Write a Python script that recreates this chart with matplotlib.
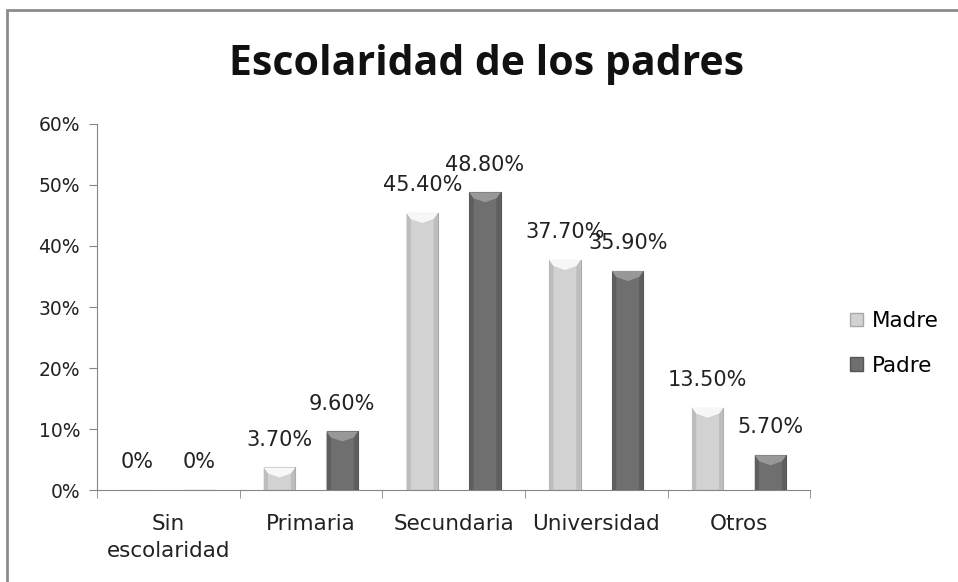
import matplotlib.pyplot as plt
import numpy as np
from matplotlib.patches import Rectangle, Patch, Polygon

categories = ["Sin\nescolaridad", "Primaria", "Secundaria", "Universidad", "Otros"]
madre = [0.0, 3.7, 45.4, 37.7, 13.5]
padre = [0.0, 9.6, 48.8, 35.9, 5.7]
madre_labels = ["0%", "3.70%", "45.40%", "37.70%", "13.50%"]
padre_labels = ["0%", "9.60%", "48.80%", "35.90%", "5.70%"]

fig = plt.figure(figsize=(9.58, 5.82), dpi=100)
ax = fig.add_axes([0.101, 0.158, 0.745, 0.629])

x = np.arange(len(categories))
w = 0.22
off = 0.22

b1 = ax.bar(x - off, madre, w, color="#d2d2d2", edgecolor="#a8a8a8", linewidth=0.8, label="Madre")
b2 = ax.bar(x + off, padre, w, color="#6f6f6f", edgecolor="#555555", linewidth=0.8, label="Padre")

# bevelled look: lighter V on top, darker side strips
px = 60 / 366.0  # one pixel in data units (y)
for bars, top, side in ((b1, "#f7f7f7", "#bdbdbd"), (b2, "#989898", "#5e5e5e")):
    for r in bars:
        h = r.get_height()
        if h <= 0:
            continue
        x0, x1 = r.get_x(), r.get_x() + r.get_width()
        xc = (x0 + x1) / 2
        d = min(10 * px, h * 0.45)
        sw = 0.03
        ax.add_patch(Polygon([(x0, 0), (x0 + sw, 0), (x0 + sw, h - d * 0.6), (x0, h)], closed=True,
                             color=side, lw=0, zorder=3))
        ax.add_patch(Polygon([(x1, 0), (x1 - sw, 0), (x1 - sw, h - d * 0.6), (x1, h)], closed=True,
                             color=side, lw=0, zorder=3))
        ax.add_patch(Polygon([(x0, h), (x1, h), (x1 - sw, h - d * 0.6), (xc, h - d), (x0 + sw, h - d * 0.6)],
                             closed=True, color=top, lw=0, zorder=3))

for r, t in zip(b1, madre_labels):
    ax.annotate(t, (r.get_x() + r.get_width() / 2, r.get_height()), xytext=(0, 20),
                textcoords="offset points", ha="center", va="center", fontsize=15, color="#222222")
for r, t in zip(b2, padre_labels):
    ax.annotate(t, (r.get_x() + r.get_width() / 2, r.get_height()), xytext=(0, 20),
                textcoords="offset points", ha="center", va="center", fontsize=15, color="#222222")

ax.set_xlim(-0.5, len(categories) - 0.5)
ax.set_ylim(0, 60)
ax.set_yticks(np.arange(0, 61, 10))
ax.set_yticklabels([f"{v}%" for v in range(0, 61, 10)], fontsize=13.5, color="#222222")
ax.set_xticks(x)
ax.set_xticklabels(categories, fontsize=15.5, color="#222222", linespacing=1.45)
ax.set_xticks(np.arange(-0.5, len(categories)), minor=True)
ax.tick_params(axis="x", which="major", length=0, pad=17)
ax.tick_params(axis="x", which="minor", length=6, color="#868686")
ax.tick_params(axis="y", length=6, color="#868686", pad=6)

for s in ("top", "right"):
    ax.spines[s].set_visible(False)
for s in ("left", "bottom"):
    ax.spines[s].set_color("#868686")

fig.text(0.508, 0.89, "Escolaridad de los padres", ha="center", va="center",
         fontsize=29.5, fontweight="bold", family="Open Sans", color="#111111")

handles = [Patch(facecolor="#d2d2d2", edgecolor="#a8a8a8"), Patch(facecolor="#6f6f6f", edgecolor="#555555")]
fig.legend(handles, ["Madre", "Padre"], loc="center left", bbox_to_anchor=(0.867, 0.41),
           frameon=False, fontsize=15.5, handlelength=0.6, handleheight=0.6,
           handletextpad=0.4, labelspacing=1.15)

# outer border
fig.add_artist(Rectangle((0.007, -0.1), 1.1, 1.083, transform=fig.transFigure,
                         fill=False, edgecolor="#8c8c8c", linewidth=2))

fig.savefig("out.png", dpi=100)
